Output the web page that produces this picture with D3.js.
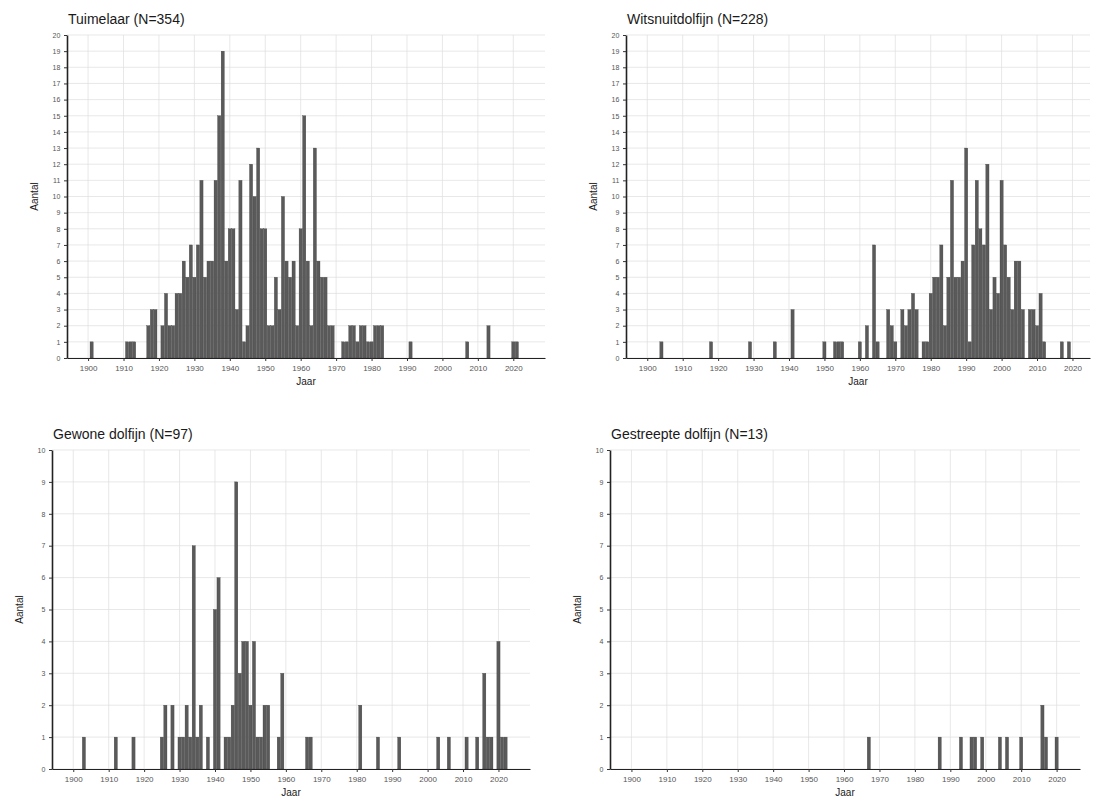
<!DOCTYPE html>
<html>
<head>
<meta charset="utf-8">
<script src="https://cdn.jsdelivr.net/npm/d3@7"></script>
<style>
  body { margin: 0; background: #fff; }
  svg { font-family: "Liberation Sans", Arial, sans-serif; }
</style>
</head>
<body>
<div id="chart"></div>
<script>
// aantallen per jaar
var tuimelaarJaar   = [1901,1911,1912,1913,1917,1918,1919,1921,1922,1923,1924,1925,1926,1927,1928,1929,1930,1931,1932,1933,1934,1935,1936,1937,1938,1939,1940,1941,1942,1943,1944,1945,1946,1947,1948,1949,1950,1951,1952,1953,1954,1955,1956,1957,1958,1959,1960,1961,1962,1963,1964,1965,1966,1967,1968,1969,1972,1973,1974,1975,1976,1977,1978,1979,1980,1981,1982,1983,1991,2007,2013,2020,2021]
var tuimelaarAantal = [1,1,1,1,2,3,3,2,4,2,2,4,4,6,5,7,5,7,11,5,6,6,11,15,19,6,8,8,3,11,1,2,12,10,13,8,8,2,2,5,3,10,6,5,6,2,8,15,6,2,13,6,5,5,2,2,1,1,2,2,1,2,2,1,1,2,2,2,1,1,2,1,1]

var witsnuitJaar   = [1904,1918,1929,1936,1941,1950,1953,1954,1955,1960,1962,1964,1965,1968,1969,1970,1972,1973,1974,1975,1976,1978,1979,1980,1981,1982,1983,1984,1985,1986,1987,1988,1989,1990,1991,1992,1993,1994,1995,1996,1997,1998,1999,2000,2001,2002,2003,2004,2005,2006,2008,2009,2010,2011,2012,2017,2019]
var witsnuitAantal = [1,1,1,1,3,1,1,1,1,1,2,7,1,3,2,1,3,2,3,4,3,1,1,4,5,5,7,2,5,11,5,5,6,13,1,7,11,8,7,12,3,5,4,11,7,5,3,6,6,3,3,3,2,4,1,1,1]

var gewoneJaar   = [1903,1912,1917,1925,1926,1928,1930,1931,1932,1933,1934,1935,1936,1938,1940,1941,1943,1944,1945,1946,1947,1948,1949,1950,1951,1952,1953,1954,1955,1958,1959,1966,1967,1981,1986,1992,2003,2006,2011,2014,2016,2017,2018,2020,2021,2022]
var gewoneAantal = [1,1,1,1,2,2,1,1,2,1,7,1,2,1,5,6,1,1,2,9,3,4,4,2,4,1,1,2,2,1,3,1,1,2,1,1,1,1,1,1,3,1,1,4,1,1]

var gestreepteJaar   = [1967,1987,1993,1996,1997,1999,2004,2006,2010,2016,2017,2020]
var gestreepteAantal = [1,1,1,1,1,1,1,1,1,2,1,1]

var jaarTicks = d3.range(1900, 2021, 10)

var panels = [
  {titel: 'Tuimelaar (N=354)', jaar: tuimelaarJaar, aantal: tuimelaarAantal, ymax: 20,
   left: 67, right: 545, top: 35, bottom: 358, domain: [1894.05, 2028.95]},
  {titel: 'Witsnuitdolfijn (N=228)', jaar: witsnuitJaar, aantal: witsnuitAantal, ymax: 20,
   left: 626, right: 1090, top: 35, bottom: 358, domain: [1894.0, 2024.95]},
  {titel: 'Gewone dolfijn (N=97)', jaar: gewoneJaar, aantal: gewoneAantal, ymax: 10,
   left: 52, right: 530, top: 450, bottom: 769, domain: [1894.0, 2028.9]},
  {titel: 'Gestreepte dolfijn (N=13)', jaar: gestreepteJaar, aantal: gestreepteAantal, ymax: 10,
   left: 610, right: 1080, top: 450, bottom: 769, domain: [1893.95, 2026.6]}
]

var svg = d3.select('#chart').append('svg')
    .attr('width', 1093).attr('height', 805)

panels.forEach(function(p){
  var x = d3.scaleLinear().domain(p.domain).range([p.left, p.right])
  var y = d3.scaleLinear().domain([0, p.ymax]).range([p.bottom, p.top])
  var g = svg.append('g')
  var bw = x(1900.9) - x(1900)

  // raster
  g.append('g').selectAll('line.h')
    .data(d3.range(0, p.ymax + 1))
    .join('line')
      .attr('x1', p.left).attr('x2', p.right)
      .attr('y1', d => y(d)).attr('y2', d => y(d))
      .attr('stroke', '#dedede').attr('stroke-width', 0.7)
  g.append('g').selectAll('line.v')
    .data(jaarTicks)
    .join('line')
      .attr('x1', d => x(d)).attr('x2', d => x(d))
      .attr('y1', p.top).attr('y2', p.bottom)
      .attr('stroke', '#dedede').attr('stroke-width', 0.7)

  // staven
  var data = p.jaar.map((j, i) => ({jaar: j, n: p.aantal[i]}))
  g.append('g').selectAll('rect')
    .data(data)
    .join('rect')
      .attr('x', d => x(d.jaar) - bw / 2)
      .attr('width', bw)
      .attr('y', d => y(d.n))
      .attr('height', d => y(0) - y(d.n))
      .attr('fill', '#5a5a5a')
      .attr('stroke', '#3a3a3a').attr('stroke-width', 0.3)

  // assen
  var xAxis = g.append('g')
      .attr('transform', 'translate(0,' + p.bottom + ')')
      .call(d3.axisBottom(x).tickValues(jaarTicks).tickFormat(d3.format('d')).tickSize(3).tickSizeOuter(0))
  xAxis.select('.domain').attr('stroke', '#222').attr('stroke-width', 1.2)
  xAxis.selectAll('.tick line').attr('stroke', '#333')
  xAxis.selectAll('text').attr('fill', '#555').style('font-size', '8px').attr('dy', '0.9em')

  var yAxis = g.append('g')
      .attr('transform', 'translate(' + p.left + ',0)')
      .call(d3.axisLeft(y).ticks(p.ymax).tickSize(3).tickSizeOuter(0))
  yAxis.select('.domain').attr('stroke', '#222').attr('stroke-width', 1.6)
  yAxis.selectAll('.tick line').attr('stroke', '#333')
  yAxis.selectAll('text').attr('fill', '#555').style('font-size', '7px').attr('dx', '-0.1em')

  // titels
  g.append('text')
      .attr('x', p.left + 1).attr('y', p.top - 11)
      .style('font-size', '14px').attr('fill', '#1a1a1a')
      .text(p.titel)
  g.append('text')
      .attr('x', (p.left + p.right) / 2).attr('y', p.bottom + 27)
      .attr('text-anchor', 'middle')
      .style('font-size', '10px').attr('fill', '#1a1a1a')
      .text('Jaar')
  g.append('text')
      .attr('transform', 'translate(' + (p.left - 29) + ',' + ((p.top + p.bottom) / 2) + ') rotate(-90)')
      .attr('text-anchor', 'middle')
      .style('font-size', '10px').attr('fill', '#1a1a1a')
      .text('Aantal')
})
</script>
</body>
</html>
